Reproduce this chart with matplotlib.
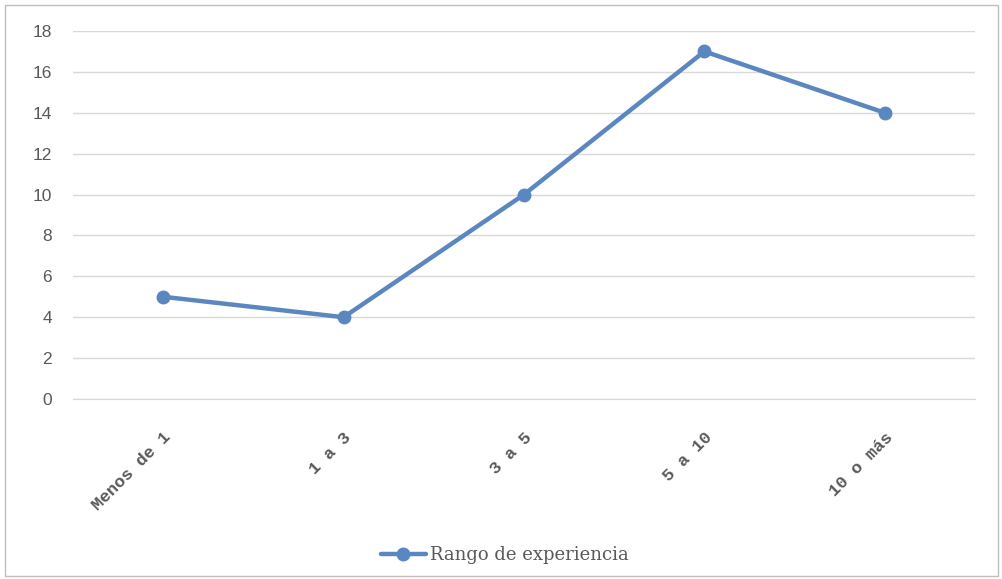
import matplotlib
matplotlib.use("Agg")
import matplotlib.pyplot as plt
from matplotlib.patches import Rectangle

categories = ["Menos de 1", "1 a 3", "3 a 5", "5 a 10", "10 o más"]
values = [5, 4, 10, 17, 14]
series_name = "Rango de experiencia"
yticks = [0, 2, 4, 6, 8, 10, 12, 14, 16, 18]

line_color = "#5B87C0"
text_color = "#595959"
grid_color = "#D9D9D9"

fig = plt.figure(figsize=(10.02, 5.79), dpi=100)
fig.patches.append(Rectangle((5/1002, 3/579), 993/1002, 571/579, transform=fig.transFigure,
                             fill=False, edgecolor="#BFBFBF", linewidth=1.0))
ax = fig.add_axes([73/1002, 1 - 399/579, 902/1002, 368/579])

x = list(range(len(categories)))
ax.plot(x, values, color=line_color, linewidth=3.2, marker="o", markersize=9,
        markerfacecolor=line_color, markeredgecolor=line_color, label=series_name,
        solid_capstyle="round", zorder=3)

ax.set_xlim(-0.5, len(categories) - 0.5)
ax.set_ylim(0, 18)
ax.set_yticks(yticks)
ax.set_yticklabels([str(v) for v in yticks], fontsize=12.5, color=text_color,
                   family="Liberation Sans")
ax.set_xticks(x)
ax.set_xticklabels(categories, rotation=45, ha="right", va="top",
                   rotation_mode="anchor", fontsize=12.5, color=text_color,
                   family="Liberation Mono", fontweight="bold")
ax.tick_params(axis="y", length=0, pad=15)
ax.tick_params(axis="x", length=0, pad=22)
ax.yaxis.grid(True, color=grid_color, linewidth=1.0)
ax.set_axisbelow(True)
for s in ["top", "right", "left"]:
    ax.spines[s].set_visible(False)
ax.spines["bottom"].set_color(grid_color)

leg = fig.legend(loc="center", bbox_to_anchor=(505/1002, 1 - 555/579), frameon=False,
                 prop={"family": "DejaVu Serif", "size": 13}, handlelength=2.5,
                 handletextpad=0.25)
for t in leg.get_texts():
    t.set_color(text_color)

fig.savefig("out.png", dpi=100)
